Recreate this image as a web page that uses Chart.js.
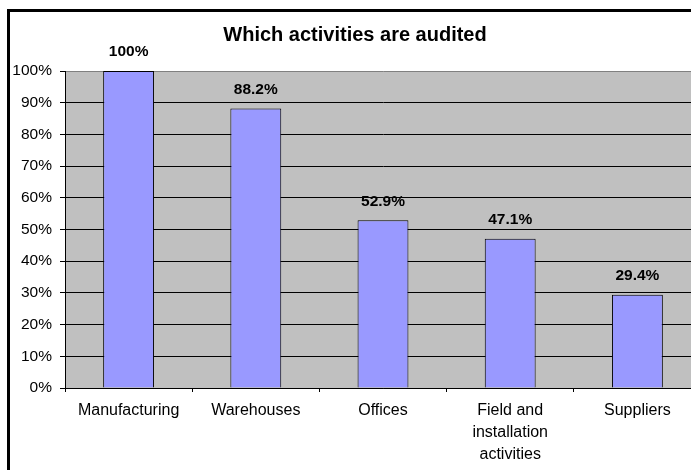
<!DOCTYPE html>
<html>
<head>
<meta charset="utf-8">
<script src="https://cdn.jsdelivr.net/npm/chart.js@4"></script>
<style>
  html, body { margin: 0; padding: 0; overflow: hidden; background: #fff; }
  #myBarChart { display: block; }
</style>
</head>
<body>
<canvas id="myBarChart" width="710" height="470"></canvas>
<script>
var categories = ['Manufacturing', 'Warehouses', 'Offices', ['Field and', 'installation', 'activities'], 'Suppliers'];
var values = [100, 88.2, 52.9, 47.1, 29.4];
var valueLabels = ['100%', '88.2%', '52.9%', '47.1%', '29.4%'];
var yTicks = [0, 10, 20, 30, 40, 50, 60, 70, 80, 90, 100];

var fontFamily = '"Liberation Sans", Arial, sans-serif';

// grey plot area, outer frame and the value labels above the bars
var excelLook = {
    id: 'excelLook',
    afterLayout: function (chart) {
        // centre the title on the whole chart, not on the padded box
        if (chart.titleBlock) chart.titleBlock.right += 9;
    },
    beforeDraw: function (chart) {
        var c = chart.ctx, a = chart.chartArea;
        c.save();
        c.fillStyle = '#fff';
        c.fillRect(0, 0, chart.width, chart.height);
        c.fillStyle = '#C0C0C0';
        c.fillRect(a.left, a.top, a.right - a.left, a.bottom - a.top);
        c.restore();
    },
    afterDraw: function (chart) {
        var c = chart.ctx;
        var meta = chart.getDatasetMeta(0);
        c.save();
        c.font = 'bold 15.5px ' + fontFamily;
        c.fillStyle = '#000';
        c.textAlign = 'center';
        c.textBaseline = 'middle';
        meta.data.forEach(function (bar, i) {
            c.fillText(valueLabels[i], bar.x, bar.y - 19);
        });
        // frame round the whole chart (only top and left are inside the picture)
        c.fillRect(7, 9, chart.width, 3);
        c.fillRect(7, 9, 3, chart.height);
        c.restore();
    }
};

var ctx = document.getElementById('myBarChart').getContext('2d');
var myBarChart = new Chart(ctx, {
    type: 'bar',
    data: {
        labels: categories,
        datasets: [{
            label: 'Audited',
            data: values,
            backgroundColor: '#9999FF',
            borderColor: '#000',
            borderWidth: 1,
            barPercentage: 0.4,
            categoryPercentage: 1.0
        }]
    },
    options: {
        responsive: false,
        animation: false,
        layout: { padding: { left: 0, right: 9, top: 0, bottom: 0 } },
        plugins: {
            legend: { display: false },
            tooltip: { enabled: false },
            title: {
                display: true,
                text: 'Which activities are audited',
                color: '#000',
                font: { family: fontFamily, size: 20, weight: 'bold', lineHeight: 1.2 },
                padding: { top: 23, bottom: 24 }
            }
        },
        scales: {
            x: {
                grid: {
                    display: true,
                    drawOnChartArea: false,
                    drawTicks: true,
                    offset: true,
                    tickLength: 4,
                    color: '#000'
                },
                border: { color: '#000', width: 1 },
                ticks: {
                    color: '#000',
                    padding: 7,
                    maxRotation: 0,
                    font: { family: fontFamily, size: 16, lineHeight: 1.4 }
                },
                afterFit: function (scale) { scale.height = 82; }
            },
            y: {
                min: 0,
                max: 100,
                afterBuildTicks: function (scale) {
                    scale.ticks = yTicks.map(function (v) { return { value: v }; });
                },
                grid: {
                    color: function (c) { return c.tick && c.tick.value === 100 ? '#808080' : '#000'; },
                    tickColor: '#000',
                    tickLength: 5,
                    lineWidth: 1
                },
                border: { color: '#000', width: 1 },
                ticks: {
                    color: '#000',
                    padding: 8,
                    font: { family: fontFamily, size: 15.5 },
                    callback: function (v) { return v + '%'; }
                },
                afterFit: function (scale) { scale.width = 65; }
            }
        }
    },
    plugins: [excelLook]
});
</script>
</body>
</html>
